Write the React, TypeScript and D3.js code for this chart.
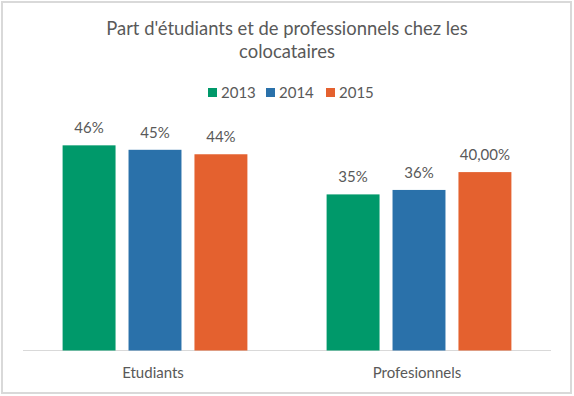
import React from "react";
import * as d3 from "d3";

const categories = ["Etudiants", "Profesionnels"];
const years = ["2013", "2014", "2015"];
const values2013 = [0.46, 0.35];
const values2014 = [0.45, 0.36];
const values2015 = [0.44, 0.4];
const labels2013 = ["46%", "35%"];
const labels2014 = ["45%", "36%"];
const labels2015 = ["44%", "40,00%"];
const colors = ["#00996A", "#2A71AA", "#E4612F"];
const titleLines = ["Part d'étudiants et de professionnels chez les", "colocataires"];

const W = 574;
const H = 396;
const FONT = "Lato, 'Open Sans', sans-serif";
const TEXT = "#595959";

export default function App() {
  const series = [values2013, values2014, values2015];
  const seriesLabels = [labels2013, labels2014, labels2015];

  const x0 = d3
    .scaleBand<string>()
    .domain(categories)
    .range([23, 551])
    .paddingInner(0.3)
    .paddingOuter(0.15);
  const x1 = d3
    .scaleBand<string>()
    .domain(years)
    .range([0, x0.bandwidth()])
    .paddingInner(0.197)
    .paddingOuter(0);
  const y = d3.scaleLinear().domain([0, 0.5]).range([350.5, 127.5]);

  const legendX = [208, 266, 326];

  return (
    <svg
      width={W}
      height={H}
      style={{ position: "absolute", left: 0, top: 0, display: "block" }}
      fontFamily={FONT}
    >
      <rect x={0} y={0} width={W} height={H} fill="#ffffff" />
      <rect x={2} y={2} width={569} height={391} fill="none" stroke="#D9D9D9" strokeWidth={2} />
      {titleLines.map((t, i) => (
        <text key={i} x={287} y={34.5 + i * 23.5} textAnchor="middle" fontSize={18.4} fill={TEXT}>
          {t}
        </text>
      ))}
      {years.map((yr, i) => (
        <g key={yr}>
          <rect x={legendX[i]} y={88} width={9} height={9} fill={colors[i]} />
          <text x={legendX[i] + 13} y={97.5} fontSize={15} fill={TEXT}>
            {yr}
          </text>
        </g>
      ))}
      <line x1={23} x2={551} y1={y(0)} y2={y(0)} stroke="#D9D9D9" strokeWidth={1} />
      {categories.map((c, ci) => (
        <g key={c} transform={`translate(${x0(c)},0)`}>
          {years.map((yr, si) => {
            const v = series[si][ci];
            return (
              <g key={yr}>
                <rect
                  x={x1(yr)}
                  y={y(v)}
                  width={x1.bandwidth()}
                  height={y(0) - y(v)}
                  fill={colors[si]}
                />
                <text
                  x={(x1(yr) as number) + x1.bandwidth() / 2}
                  y={y(v) - 12}
                  textAnchor="middle"
                  fontSize={15}
                  fill={TEXT}
                >
                  {seriesLabels[si][ci]}
                </text>
              </g>
            );
          })}
          <text x={x0.bandwidth() / 2 - 2} y={377.5} textAnchor="middle" fontSize={15} fill={TEXT}>
            {c}
          </text>
        </g>
      ))}
    </svg>
  );
}
